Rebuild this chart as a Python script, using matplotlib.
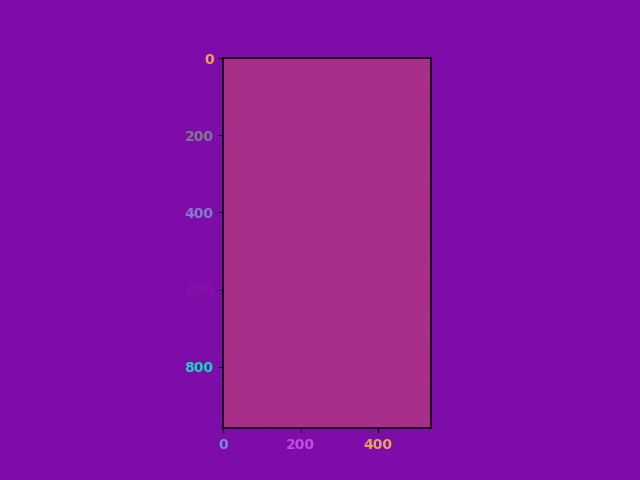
import numpy as np
import matplotlib
matplotlib.use("Agg")
import matplotlib.pyplot as plt

# Data
img_width = 540
img_height = 960
fill_rgb = (0xa8, 0x2e, 0x8a)
x_ticks = [0, 200, 400]
y_ticks = [0, 200, 400, 600, 800]
x_tick_colors = ["#7090d0", "#c050e0", "#e0a858"]
y_tick_colors = ["#f5a050", "#807890", "#8a78d0", "#8a10a6", "#20d0c0"]

bg = "#7e0ca8"
fig = plt.figure(figsize=(6.4, 4.8), dpi=100, facecolor=bg)
ax = fig.add_axes([0.348, 0.108, 0.327, 0.771])
img = np.ones((img_height, img_width, 3)) * np.array(fill_rgb) / 255.0
ax.imshow(img, aspect="equal")
ax.tick_params(color="black", length=3.5)
ax.set_xticks(x_ticks)
ax.set_yticks(y_ticks)
ax.set_xticklabels([str(v) for v in x_ticks], fontsize=10, fontweight="bold")
ax.set_yticklabels([str(v) for v in y_ticks], fontsize=10, fontweight="bold")
for lab, c in zip(ax.get_xticklabels(), x_tick_colors):
    lab.set_color(c)
for lab, c in zip(ax.get_yticklabels(), y_tick_colors):
    lab.set_color(c)
for s in ax.spines.values():
    s.set_color("black")
    s.set_linewidth(1.2)
fig.savefig("out.png", dpi=100, facecolor=bg)
